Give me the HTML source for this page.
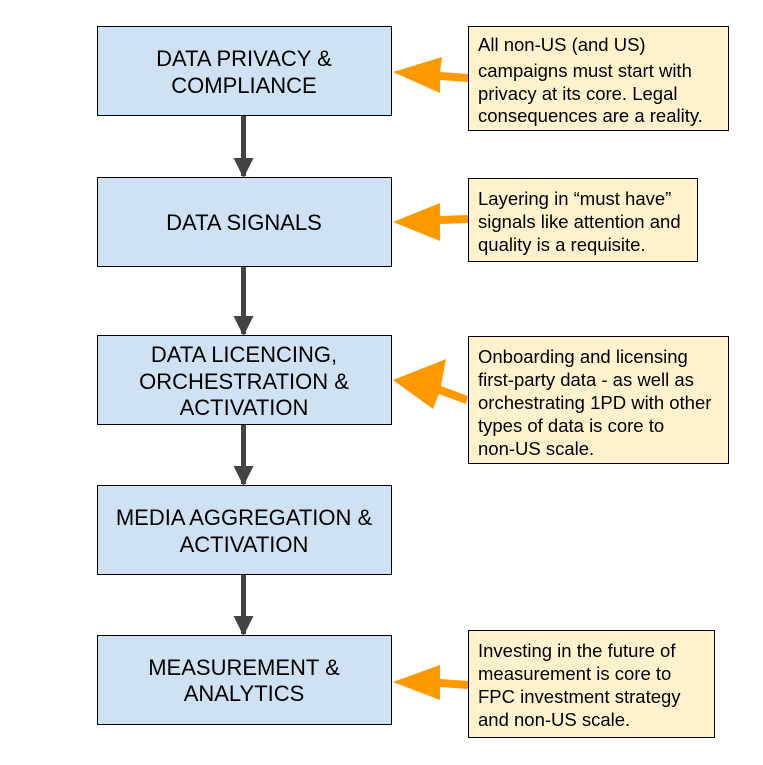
<!DOCTYPE html>
<html><head><style>body{margin:0;background:#fff}svg{display:block}</style></head><body>
<svg width="763" height="765" xmlns="http://www.w3.org/2000/svg" font-family="Liberation Sans, sans-serif">
<defs>
<marker id="g" markerWidth="4" markerHeight="4" refX="3.6" refY="2" orient="auto" markerUnits="strokeWidth"><path d="M0,0 L4,2 L0,4z" fill="#434343"/></marker>
</defs>
<g fill="#cfe2f3" stroke="#000" stroke-width="1">
<rect x="97.5" y="26.5" width="294" height="89"/>
<rect x="97.5" y="177.5" width="294" height="89"/>
<rect x="97.5" y="335.5" width="294" height="89"/>
<rect x="97.5" y="485.5" width="294" height="89"/>
<rect x="97.5" y="635.5" width="294" height="89"/>
</g>
<g fill="#fff2cc" stroke="#000" stroke-width="1">
<rect x="468.5" y="26.5" width="260" height="104"/>
<rect x="468.5" y="178.5" width="229" height="83"/>
<rect x="468.5" y="336.5" width="260" height="127"/>
<rect x="468.5" y="630.5" width="246" height="107"/>
</g>
<g stroke="#434343" stroke-width="5">
<line x1="243.5" y1="116" x2="243.5" y2="176" marker-end="url(#g)"/>
<line x1="243.5" y1="267" x2="243.5" y2="334" marker-end="url(#g)"/>
<line x1="243.5" y1="425" x2="243.5" y2="484" marker-end="url(#g)"/>
<line x1="243.5" y1="575" x2="243.5" y2="634" marker-end="url(#g)"/>
</g>
<g fill="#ff9900">
<path d="M468,74 L440,72 L442,57 L393,72 L440,93 L440,80 L468,82z"/>
<path d="M468,215 L440,216 L440,203 L393,222 L440,241 L440,224 L468,223z"/>
<path d="M468,396 L441,386 L446,359 L393,380 L433,409 L439,394 L466,404z"/>
<path d="M468,681 L440,679 L440,665 L393,682 L440,700 L440,687 L468,689z"/>
</g>
<g font-size="22" fill="#000" text-anchor="middle">
<text x="244" y="66">DATA PRIVACY &amp;</text>
<text x="244" y="93">COMPLIANCE</text>
<text x="244" y="230">DATA SIGNALS</text>
<text x="244" y="362">DATA LICENCING,</text>
<text x="244" y="389">ORCHESTRATION &amp;</text>
<text x="244" y="415">ACTIVATION</text>
<text x="244" y="525">MEDIA AGGREGATION &amp;</text>
<text x="244" y="552">ACTIVATION</text>
<text x="244" y="675">MEASUREMENT &amp;</text>
<text x="244" y="701">ANALYTICS</text>
</g>
<g font-size="18.5" fill="#000">
<text x="478" y="51">All non-US (and US)</text>
<text x="478" y="77">campaigns must start with</text>
<text x="478" y="100">privacy at its core.  Legal</text>
<text x="478" y="122">consequences are a reality.</text>
<text x="478" y="205">Layering in “must have”</text>
<text x="478" y="228">signals like attention and</text>
<text x="478" y="251">quality is a requisite.</text>
<text x="478" y="363">Onboarding and licensing</text>
<text x="478" y="386">first-party data - as well as</text>
<text x="478" y="409">orchestrating 1PD with other</text>
<text x="478" y="432">types of data is core to</text>
<text x="478" y="455">non-US scale.</text>
<text x="478" y="657">Investing in the future of</text>
<text x="478" y="680">measurement is core to</text>
<text x="478" y="703">FPC investment strategy</text>
<text x="478" y="726">and non-US scale.</text>
</g>
</svg>
</body></html>
